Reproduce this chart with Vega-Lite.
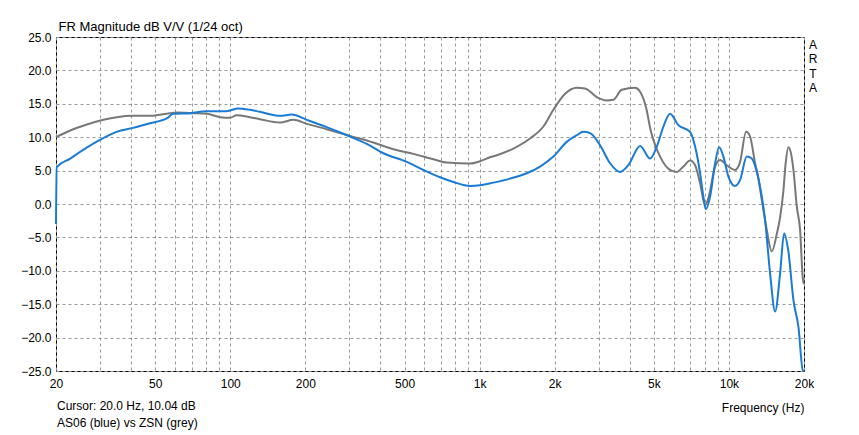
{
  "$schema": "https://vega.github.io/schema/vega-lite/v6.json",
  "width": 748,
  "height": 334,
  "autosize": {"type": "none"},
  "padding": {"left": 56, "top": 37, "right": 55, "bottom": 64},
  "background": "white",
  "config": {
    "view": {"stroke": "#000", "strokeWidth": 1},
    "font": "Liberation Sans",
    "text": {"font": "Liberation Sans"},
    "axis": {"labelOverlap": false, "labelFlush": false, "labelBound": false}
  },
  "datasets": {
    "zsn": [
      {"f": 20, "db": 10.0}, {"f": 22.8, "db": 11.0}, {"f": 26.6, "db": 11.9}, {"f": 31.0, "db": 12.6},
      {"f": 35.0, "db": 13.0}, {"f": 40.8, "db": 13.2}, {"f": 47.7, "db": 13.2}, {"f": 55.6, "db": 13.5},
      {"f": 61.0, "db": 13.7}, {"f": 68.9, "db": 13.6}, {"f": 80.4, "db": 13.5}, {"f": 91.0, "db": 13.0},
      {"f": 99.8, "db": 12.9}, {"f": 106.1, "db": 13.3}, {"f": 120, "db": 13.0}, {"f": 131.6, "db": 12.7},
      {"f": 158.3, "db": 12.2}, {"f": 179, "db": 12.6}, {"f": 202.6, "db": 12.0}, {"f": 243.6, "db": 11.2},
      {"f": 302.2, "db": 10.2}, {"f": 374.8, "db": 9.2}, {"f": 450.8, "db": 8.2}, {"f": 542.4, "db": 7.5},
      {"f": 652.4, "db": 6.7}, {"f": 738.2, "db": 6.2}, {"f": 915.6, "db": 6.05}, {"f": 1004, "db": 6.4},
      {"f": 1101, "db": 7.0}, {"f": 1172, "db": 7.3}, {"f": 1366, "db": 8.3}, {"f": 1593, "db": 9.8},
      {"f": 1802, "db": 11.6}, {"f": 1976, "db": 14.1}, {"f": 2202, "db": 16.5}, {"f": 2453, "db": 17.4},
      {"f": 2648, "db": 17.3}, {"f": 2950, "db": 16.0}, {"f": 3236, "db": 15.5}, {"f": 3440, "db": 15.6},
      {"f": 3716, "db": 17.1}, {"f": 4204, "db": 17.4}, {"f": 4402, "db": 16.8}, {"f": 4682, "db": 14.0},
      {"f": 4828, "db": 11.4}, {"f": 4976, "db": 9.6}, {"f": 5294, "db": 7.1}, {"f": 5806, "db": 5.1},
      {"f": 6178, "db": 4.8}, {"f": 6566, "db": 5.6}, {"f": 6984, "db": 6.5}, {"f": 7316, "db": 5.8},
      {"f": 7662, "db": 3.1}, {"f": 8022, "db": -0.2}, {"f": 8270, "db": 0.9}, {"f": 8800, "db": 5.6},
      {"f": 9214, "db": 6.6}, {"f": 9802, "db": 5.8}, {"f": 10586, "db": 5.1}, {"f": 11086, "db": 6.3},
      {"f": 11716, "db": 10.8}, {"f": 12158, "db": 10.1}, {"f": 12732, "db": 6.1}, {"f": 13030, "db": 4.5},
      {"f": 13546, "db": 0.6}, {"f": 14184, "db": -3.9}, {"f": 14852, "db": -7.1}, {"f": 15556, "db": -4.5},
      {"f": 16040, "db": -2.0}, {"f": 16536, "db": 2.0}, {"f": 16874, "db": 6.0}, {"f": 17316, "db": 8.5},
      {"f": 17756, "db": 7.5}, {"f": 18140, "db": 5.1}, {"f": 18716, "db": -0.4}, {"f": 19294, "db": -3.9},
      {"f": 19780, "db": -11.1}, {"f": 20000, "db": -12}
    ],
    "as06": [
      {"f": 20, "db": -3}, {"f": 20.13, "db": 5.5}, {"f": 22.8, "db": 6.8}, {"f": 25.7, "db": 8.1},
      {"f": 30.0, "db": 9.6}, {"f": 35.0, "db": 10.8}, {"f": 40.8, "db": 11.4}, {"f": 47.7, "db": 12.1},
      {"f": 55.6, "db": 12.8}, {"f": 59.1, "db": 13.5}, {"f": 68.9, "db": 13.6}, {"f": 80.4, "db": 13.9},
      {"f": 96.7, "db": 13.9}, {"f": 107.7, "db": 14.3}, {"f": 120, "db": 14.1}, {"f": 131.6, "db": 13.8},
      {"f": 158.3, "db": 13.2}, {"f": 176.4, "db": 13.4}, {"f": 202.6, "db": 12.6}, {"f": 243.6, "db": 11.5},
      {"f": 302.2, "db": 10.1}, {"f": 352.7, "db": 9.0}, {"f": 411.1, "db": 7.6}, {"f": 510.2, "db": 6.3},
      {"f": 594.8, "db": 5.1}, {"f": 694, "db": 4.0}, {"f": 784.8, "db": 3.3}, {"f": 915.6, "db": 2.7},
      {"f": 1004, "db": 2.8}, {"f": 1136, "db": 3.2}, {"f": 1325, "db": 3.8}, {"f": 1546, "db": 4.6},
      {"f": 1748, "db": 5.6}, {"f": 1976, "db": 7.1}, {"f": 2236, "db": 9.3}, {"f": 2453, "db": 10.3},
      {"f": 2607, "db": 10.8}, {"f": 2774, "db": 10.6}, {"f": 3042, "db": 8.8}, {"f": 3336, "db": 6.1},
      {"f": 3658, "db": 4.8}, {"f": 3950, "db": 5.8}, {"f": 4402, "db": 8.7}, {"f": 4828, "db": 6.8},
      {"f": 5136, "db": 8.6}, {"f": 5458, "db": 11.6}, {"f": 5806, "db": 13.5}, {"f": 6270, "db": 11.8},
      {"f": 6984, "db": 10.8}, {"f": 7316, "db": 8.6}, {"f": 7662, "db": 4.6}, {"f": 7898, "db": 1.1},
      {"f": 8076, "db": -0.8}, {"f": 8404, "db": 1.1}, {"f": 8800, "db": 6.1}, {"f": 9130, "db": 8.5},
      {"f": 9500, "db": 7.1}, {"f": 9950, "db": 4.1}, {"f": 10586, "db": 2.7}, {"f": 11086, "db": 3.6},
      {"f": 11792, "db": 7.1}, {"f": 12350, "db": 6.8}, {"f": 12934, "db": 4.8}, {"f": 13546, "db": 1.1},
      {"f": 13964, "db": -2.4}, {"f": 14622, "db": -10.4}, {"f": 15316, "db": -16.1}, {"f": 16040, "db": -10.4},
      {"f": 16644, "db": -4.4}, {"f": 17316, "db": -7.1}, {"f": 18140, "db": -14.4}, {"f": 18998, "db": -18.4},
      {"f": 19780, "db": -24.9}, {"f": 20000, "db": -25}
    ]
  },
  "layer": [
    {
      "data": {"name": "zsn"},
      "mark": {"type": "line", "color": "#787878", "strokeWidth": 2, "interpolate": "monotone"},
      "encoding": {
        "x": {
          "field": "f", "type": "quantitative",
          "scale": {"type": "log", "domain": [20, 20000], "nice": false},
          "axis": {
            "values": [20, 30, 40, 50, 60, 70, 80, 90, 100, 200, 300, 400, 500, 600, 700, 800, 900, 1000, 2000, 3000, 4000, 5000, 6000, 7000, 8000, 9000, 10000, 20000],
            "tickCount": 60,
            "labelExpr": "indexof([20,50,100,200,500,1000,2000,5000,10000,20000], datum.value) >= 0 ? (datum.value >= 1000 ? (datum.value/1000) + 'k' : '' + datum.value) : ''",
            "ticks": false, "domain": false, "grid": true,
            "gridDash": [3, 3], "gridColor": "#999999", "gridOpacity": 1, "gridWidth": 1,
            "labelFontSize": 12, "labelColor": "#000", "labelPadding": 7,
            "labelFlush": false, "labelOverlap": false, "labelFont": "Liberation Sans",
            "title": "Frequency (Hz)", "titleFontSize": 12, "titleFontWeight": "normal",
            "titleFont": "Liberation Sans", "titleColor": "#000",
            "titleAlign": "right", "titleAnchor": "end", "titleX": 748, "titleY": 40, "titleBaseline": "alphabetic"
          }
        },
        "y": {
          "field": "db", "type": "quantitative",
          "scale": {"domain": [-25, 25], "nice": false},
          "axis": {
            "values": [-25, -20, -15, -10, -5, 0, 5, 10, 15, 20, 25],
            "tickCount": 20,
            "format": ".1f",
            "ticks": false, "domain": false, "grid": true,
            "gridDash": [3, 3], "gridColor": "#999999", "gridOpacity": 1, "gridWidth": 1,
            "labelFontSize": 12, "labelColor": "#000", "labelPadding": 5, "labelFont": "Liberation Sans",
            "labelFlush": false, "labelOverlap": false,
            "title": "FR Magnitude dB V/V (1/24 oct)", "titleFontSize": 13, "titleFontWeight": "normal",
            "titleFont": "Liberation Sans", "titleColor": "#000",
            "titleAngle": 0, "titleAlign": "left", "titleBaseline": "alphabetic",
            "titleX": 2, "titleY": -7
          }
        }
      }
    },
    {
      "data": {"name": "as06"},
      "mark": {"type": "line", "color": "#1a7bd6", "strokeWidth": 2, "interpolate": "monotone"},
      "encoding": {
        "x": {"field": "f", "type": "quantitative"},
        "y": {"field": "db", "type": "quantitative"}
      }
    },
    {
      "data": {"values": [{}]},
      "mark": {
        "type": "text",
        "text": ["Cursor: 20.0 Hz, 10.04 dB", "AS06 (blue) vs ZSN (grey)"],
        "align": "left", "baseline": "alphabetic", "dx": 1, "dy": 39,
        "fontSize": 12, "lineHeight": 17, "color": "#000", "font": "Liberation Sans"
      },
      "encoding": {"x": {"datum": 20}, "y": {"datum": -25}}
    },
    {
      "data": {"values": [{}]},
      "mark": {
        "type": "text",
        "text": ["A", "R", "T", "A"],
        "align": "center", "baseline": "alphabetic", "dx": 9, "dy": 12,
        "fontSize": 12, "lineHeight": 14.3, "color": "#000", "font": "Liberation Sans"
      },
      "encoding": {"x": {"datum": 20000}, "y": {"datum": 25}}
    }
  ]
}
